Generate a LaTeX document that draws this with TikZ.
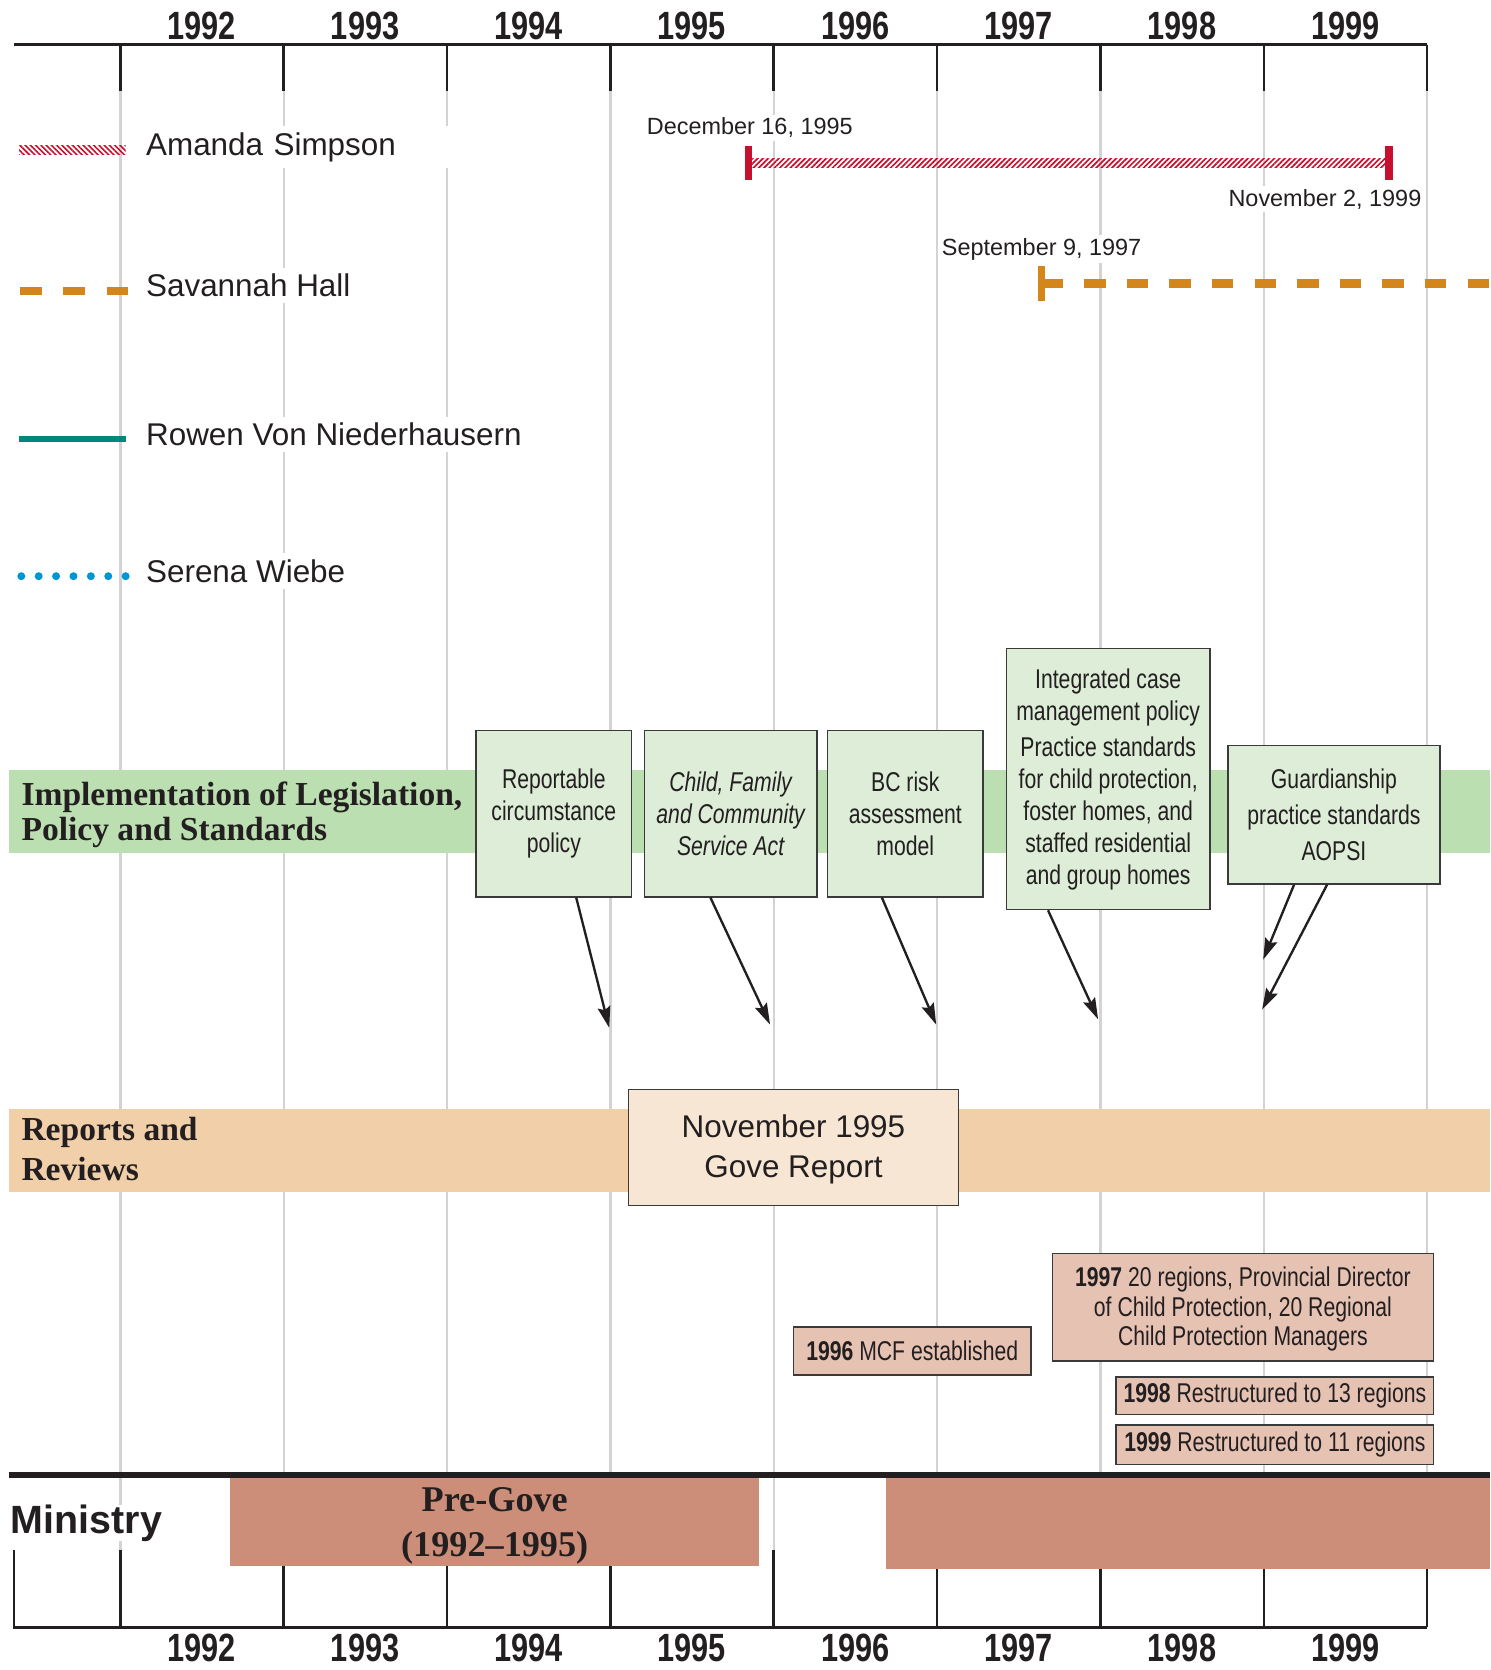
\documentclass[tikz,border=0pt]{standalone}
\usepackage{fontspec}
\setmainfont{Liberation Sans}
\newfontfamily\condfont[FakeStretch=0.78]{Liberation Sans}
\newfontfamily\serifface{Liberation Serif}
\usetikzlibrary{arrows.meta,patterns.meta}

\definecolor{inkgray}{HTML}{231F20}
\definecolor{boxline}{HTML}{3A3A3A}
\definecolor{gridgray}{HTML}{D3D3D3}
\definecolor{asred}{HTML}{C8102E}
\definecolor{shorange}{HTML}{D4861A}
\definecolor{rvteal}{HTML}{00897B}
\definecolor{swblue}{HTML}{0096D6}
\definecolor{implband}{HTML}{BCDFB2}
\definecolor{implfill}{HTML}{DDEDD7}
\definecolor{revband}{HTML}{F1D0A9}
\definecolor{revfill}{HTML}{F6E6D3}
\definecolor{minfill}{HTML}{E6C2B3}
\definecolor{minbarfill}{HTML}{CC8E78}

\begin{document}
\begin{tikzpicture}[x=1pt,y=1pt,
  gridline/.style={gridgray,line width=2.2pt},
  axisline/.style={inkgray,line width=2.4pt},
  yearlabel/.style={font=\condfont\bfseries\fontsize{37}{40}\selectfont,text=inkgray,inner sep=0pt},
  legendlabel/.style={anchor=west,font=\fontsize{29.5}{34}\selectfont,text=inkgray,fill=white,inner xsep=0pt,inner ysep=6pt},
  datelabel/.style={font=\fontsize{22}{26}\selectfont,text=inkgray,fill=white,inner sep=3pt},
  bandlabel/.style={anchor=west,align=left,font=\serifface\bfseries\fontsize{31.5}{32}\selectfont,text=inkgray,inner sep=0pt},
  implbox/.style={draw=boxline,fill=implfill,line width=1.4pt,align=center,inner sep=0pt,text=inkgray,font=\condfont\fontsize{25.5}{30}\selectfont},
  minbox/.style={draw=boxline,fill=minfill,line width=1.4pt,align=center,inner sep=0pt,text=inkgray,font=\condfont\fontsize{25.5}{27.5}\selectfont},
  minbar/.style={fill=minbarfill,inner sep=0pt,align=center,text=inkgray},
  pointer/.style={-{Stealth[length=20pt,width=12pt,inset=3pt]},line width=2.2pt,inkgray}
]
\useasboundingbox[fill=white] (0,0) rectangle (1399,-1568);
\foreach \i in {0,...,8}
  \draw[gridline] (113+153.375*\i,-42) -- (113+153.375*\i,-1455);
\draw[axisline] (13,-42) -- (1340,-42);
\foreach \i in {0,...,8}
  \draw[axisline] (113+153.375*\i,-42) -- ++(0,-43);
\foreach \yr [count=\i from 0] in {1992,...,1999}
  \node[yearlabel] (top\yr) at (189.5+153.375*\i,-24) {\yr};

\node[legendlabel,text width=290pt,align=left] (asname) at (137,-138) {Amanda Simpson};
\node[legendlabel] (shname) at (137,-268) {Savannah Hall};
\node[legendlabel] (rvname) at (137,-408) {Rowen Von Niederhausern};
\node[legendlabel] (swname) at (137,-536) {Serena Wiebe};
\coordinate (asA) at (18,-141);
\coordinate (asB) at (118,-141);
\coordinate (shA) at (19,-273);
\coordinate (shB) at (120,-273);
\coordinate (rvA) at (18,-412);
\coordinate (rvB) at (118,-412);
\coordinate (swA) at (20,-541);
\coordinate (swB) at (118,-541);
\fill[pattern={Lines[angle=-45,distance=3.5pt,line width=1.5pt]},pattern color=asred] ([yshift=4pt]asA) rectangle ([yshift=-4pt]asB);
\draw[shorange,line width=8pt,dash pattern=on 20.5pt off 20pt] (shA) -- (shB);
\draw[rvteal,line width=6pt] (rvA) -- (rvB);
\draw[swblue,line width=7.5pt,line cap=round,dash pattern=on 0pt off 16.33pt] (swA) -- (swB);

\coordinate (asL) at (703,-153);
\coordinate (asR) at (1304,-153);
\fill[pattern={Lines[angle=45,distance=3.5pt,line width=1.6pt]},pattern color=asred] ([yshift=4pt]asL) rectangle ([yshift=-4pt]asR);
\draw[asred,line width=7pt] ([yshift=16pt]asL) -- ([yshift=-16pt]asL);
\draw[asred,line width=7pt] ([yshift=16pt]asR) -- ([yshift=-16pt]asR);
\node[datelabel] (asfrom) at (704,-120) {December 16, 1995};
\node[datelabel] (asto) at (1244,-187) {November 2, 1999};
\coordinate (shL) at (978,-266);
\coordinate (shR) at (1399,-266);
\draw[shorange,line width=7pt] ([yshift=16pt]shL) -- ([yshift=-17pt]shL);
\draw[shorange,line width=8pt,dash pattern=on 20pt off 20pt] (shL) -- (shR);
\node[datelabel] (shfrom) at (978,-234) {September 9, 1997};

\fill[implband] (8,-723) rectangle (1399,-801);
\node[bandlabel] (impl) at (20,-765) {Implementation of Legislation,\\Policy and Standards};
\node[implbox,minimum width=146pt,minimum height=156pt] (rcp) at (520,-764) {Reportable\\circumstance\\policy};
\node[implbox,minimum width=162pt,minimum height=156pt,font=\condfont\itshape\fontsize{25.5}{30}\selectfont] (cfa) at (686,-764) {Child, Family\\and Community\\Service Act};
\node[implbox,minimum width=146pt,minimum height=156pt] (bcr) at (850,-764) {BC risk\\assessment\\model};
\node[implbox,minimum width=191pt,minimum height=245pt] (icm) at (1040.5,-731.5) {Integrated case\\management policy\\[4pt]Practice standards\\for child protection,\\foster homes, and\\staffed residential\\and group homes};
\node[implbox,minimum width=199pt,minimum height=130pt,font=\condfont\fontsize{25.5}{34}\selectfont] (gps) at (1252.5,-765) {Guardianship\\practice standards\\AOPSI};

\coordinate (end95) at (572,-965);
\coordinate (end96) at (723,-962);
\coordinate (end97) at (879,-962);
\coordinate (end98) at (1031,-957);
\coordinate (end99a) at (1186,-901);
\coordinate (end99b) at (1185,-948);
\draw[pointer] ([xshift=21pt]rcp.south) -- (end95);
\draw[pointer] ([xshift=-19pt]cfa.south) -- (end96);
\draw[pointer] ([xshift=-22pt]bcr.south) -- (end97);
\draw[pointer] ([xshift=-56.5pt]icm.south) -- (end98);
\draw[pointer] ([xshift=-37.5pt]gps.south) -- (end99a);
\draw[pointer] ([xshift=-6.5pt]gps.south) -- (end99b);

\fill[revband] (8,-1041) rectangle (1399,-1119);
\node[bandlabel,font=\serifface\bfseries\fontsize{31.5}{38}\selectfont] (rev) at (20,-1079) {Reports and\\Reviews};
\node[draw=boxline,fill=revfill,line width=1.4pt,align=center,inner sep=0pt,text=inkgray,font=\fontsize{29.5}{37}\selectfont,minimum width=310pt,minimum height=109pt] (gove) at (745,-1077.5) {\rule{0pt}{25pt}November 1995\\Gove Report};

\node[minbox,minimum width=223pt,minimum height=45pt] (mcf) at (856.5,-1268.5) {\textbf{1996} MCF established};
\node[minbox,minimum width=358pt,minimum height=101pt] (reg20) at (1167,-1227.5) {\rule{0pt}{22pt}\textbf{1997} 20 regions, Provincial Director\\of Child Protection, 20 Regional\\Child Protection Managers};
\node[minbox,minimum width=298pt,minimum height=35pt] (reg13) at (1197,-1310.5) {\textbf{1998} Restructured to 13 regions};
\node[minbox,minimum width=298pt,minimum height=37pt] (reg11) at (1197,-1356.5) {\textbf{1999} Restructured to 11 regions};

\draw[axisline] (13,-1455) -- (13,-1528) -- (1340,-1528);
\foreach \i in {0,...,8}
  \draw[axisline] (113+153.375*\i,-1455) -- ++(0,-73);
\draw[inkgray,line width=5pt] (8,-1385) -- (1399,-1385);
\node[minbar,minimum width=497pt,minimum height=82pt,font=\serifface\bfseries\fontsize{34}{42}\selectfont] (pregove) at (464.5,-1429) {\rule{0pt}{30pt}Pre-Gove\\(1992–1995)};
\node[minbar,minimum width=567pt,minimum height=85pt] (postgove) at (1115.5,-1430.5) {};
\node[anchor=west,font=\bfseries\fontsize{37}{40}\selectfont,text=inkgray,fill=white,inner sep=0pt] (ministry) at (10,-1430) {Ministry};
\foreach \yr [count=\i from 0] in {1992,...,1999}
  \node[yearlabel] (bot\yr) at (189.5+153.375*\i,-1547) {\yr};
\end{tikzpicture}
\end{document}
